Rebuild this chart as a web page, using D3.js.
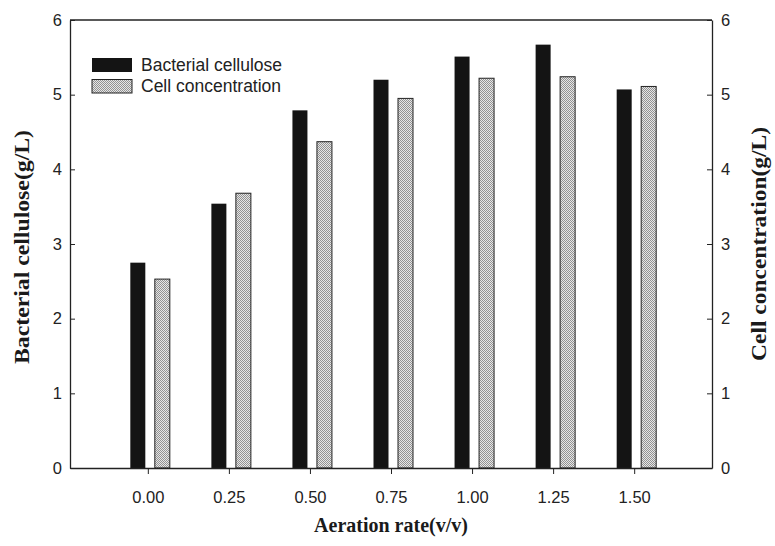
<!DOCTYPE html>
<html>
<head>
<meta charset="utf-8">
<script src="https://cdn.jsdelivr.net/npm/d3@7"></script>
<style>
  body { margin: 0; background: #fff; }
  svg { display: block; }
</style>
</head>
<body>
<div id="chart"></div>
<script>
// Datos
const aerationRates = [0.00, 0.25, 0.50, 0.75, 1.00, 1.25, 1.50];
const cellulose = [2.75, 3.54, 4.79, 5.20, 5.51, 5.67, 5.07];
const cellConc = [2.53, 3.68, 4.37, 4.95, 5.22, 5.24, 5.11];
const yTicks = [0, 1, 2, 3, 4, 5, 6];
const xTickLabels = ['0.00', '0.25', '0.50', '0.75', '1.00', '1.25', '1.50'];

const width = 775, height = 546;
const margin = { top: 20, right: 63, bottom: 78, left: 70 };

const svg = d3.select('#chart').append('svg')
    .attr('width', width)
    .attr('height', height);

// Patrón punteado para la serie gris
const defs = svg.append('defs');
const pat = defs.append('pattern')
    .attr('id', 'dots')
    .attr('width', 2)
    .attr('height', 2)
    .attr('patternUnits', 'userSpaceOnUse');
pat.append('rect').attr('width', 2).attr('height', 2).attr('fill', '#e6e6e6');
pat.append('rect').attr('width', 1).attr('height', 1).attr('fill', '#929292');
pat.append('rect').attr('x', 1).attr('y', 1).attr('width', 1).attr('height', 1).attr('fill', '#929292');

const x = d3.scaleLinear()
    .domain([-0.24, 1.74])
    .range([margin.left, width - margin.right]);

const y = d3.scaleLinear()
    .domain([0, 6])
    .range([height - margin.bottom, margin.top]);

const y2 = d3.scaleLinear()
    .domain([0, 6])
    .range([height - margin.bottom, margin.top]);

const barW = 15;

// Barras
svg.append('g').selectAll('rect')
    .data(aerationRates)
    .join('rect')
    .attr('x', (d) => x(d) - 17.5)
    .attr('y', (d, i) => y(cellulose[i]))
    .attr('width', barW)
    .attr('height', (d, i) => y(0) - y(cellulose[i]))
    .attr('fill', '#141414');

svg.append('g').selectAll('rect')
    .data(aerationRates)
    .join('rect')
    .attr('x', (d) => x(d) + 7)
    .attr('y', (d, i) => y2(cellConc[i]))
    .attr('width', barW)
    .attr('height', (d, i) => y2(0) - y2(cellConc[i]))
    .attr('fill', 'url(#dots)')
    .attr('stroke', '#222')
    .attr('stroke-width', 1);

// Marco superior
svg.append('line')
    .attr('x1', x.range()[0]).attr('x2', x.range()[1])
    .attr('y1', margin.top).attr('y2', margin.top)
    .attr('stroke', '#222').attr('stroke-width', 1.3);

// Ejes
const tickFont = '"Liberation Sans", Arial, sans-serif';

const xAxis = svg.append('g')
    .attr('transform', `translate(0,${height - margin.bottom})`)
    .call(d3.axisBottom(x).tickValues(aerationRates)
        .tickFormat((d, i) => xTickLabels[i]).tickSize(6).tickSizeOuter(0));
xAxis.select('.domain').attr('stroke', '#222').attr('stroke-width', 1.3);
xAxis.selectAll('.tick text')
    .attr('dy', '1.6em')
    .style('font-family', tickFont)
    .style('font-size', '16.5px')
    .style('fill', '#222');

const yAxis = svg.append('g')
    .attr('transform', `translate(${margin.left},0)`)
    .call(d3.axisLeft(y).tickValues(yTicks).tickFormat(d3.format('d'))
        .tickSizeInner(-5).tickSizeOuter(0).tickPadding(8));
yAxis.select('.domain').attr('stroke', '#222').attr('stroke-width', 1.3);
yAxis.selectAll('.tick text')
    .style('font-family', tickFont)
    .style('font-size', '16.5px')
    .style('fill', '#222');

const yAxis2 = svg.append('g')
    .attr('transform', `translate(${width - margin.right},0)`)
    .call(d3.axisRight(y2).tickValues(yTicks).tickFormat(d3.format('d'))
        .tickSizeInner(-5).tickSizeOuter(0).tickPadding(9));
yAxis2.select('.domain').attr('stroke', '#222').attr('stroke-width', 1.3);
yAxis2.selectAll('.tick text')
    .style('font-family', tickFont)
    .style('font-size', '16.5px')
    .style('fill', '#222');

svg.selectAll('.tick line').attr('stroke', '#222');

// Títulos de ejes
const titleFont = '"Liberation Serif", "Times New Roman", serif';

svg.append('text')
    .attr('x', (x.range()[0] + x.range()[1]) / 2)
    .attr('y', 532)
    .attr('text-anchor', 'middle')
    .style('font-family', titleFont)
    .style('font-size', '20px')
    .style('font-weight', 'bold')
    .style('fill', '#1a1a1a')
    .text('Aeration rate(v/v)');

svg.append('text')
    .attr('transform', `translate(29,${(y.range()[0] + y.range()[1]) / 2 + 3}) rotate(-90)`)
    .attr('text-anchor', 'middle')
    .attr('textLength', 234)
    .attr('lengthAdjust', 'spacingAndGlyphs')
    .style('font-family', titleFont)
    .style('font-size', '21px')
    .style('font-weight', 'bold')
    .style('fill', '#1a1a1a')
    .text('Bacterial cellulose(g/L)');

svg.append('text')
    .attr('transform', `translate(766,${(y.range()[0] + y.range()[1]) / 2}) rotate(-90)`)
    .attr('text-anchor', 'middle')
    .attr('textLength', 234)
    .attr('lengthAdjust', 'spacingAndGlyphs')
    .style('font-family', titleFont)
    .style('font-size', '21px')
    .style('font-weight', 'bold')
    .style('fill', '#1a1a1a')
    .text('Cell concentration(g/L)');

// Leyenda
const legend = svg.append('g').attr('transform', 'translate(92,58)');
legend.append('rect')
    .attr('width', 40).attr('height', 14)
    .attr('fill', '#141414');
legend.append('text')
    .attr('x', 49).attr('y', 13)
    .style('font-family', tickFont)
    .style('font-size', '17.5px')
    .style('fill', '#222')
    .text('Bacterial cellulose');
legend.append('rect')
    .attr('y', 21.5)
    .attr('width', 40).attr('height', 13.5)
    .attr('fill', 'url(#dots)')
    .attr('stroke', '#222');
legend.append('text')
    .attr('x', 49).attr('y', 34)
    .style('font-family', tickFont)
    .style('font-size', '17.5px')
    .style('fill', '#222')
    .text('Cell concentration');
</script>
</body>
</html>
